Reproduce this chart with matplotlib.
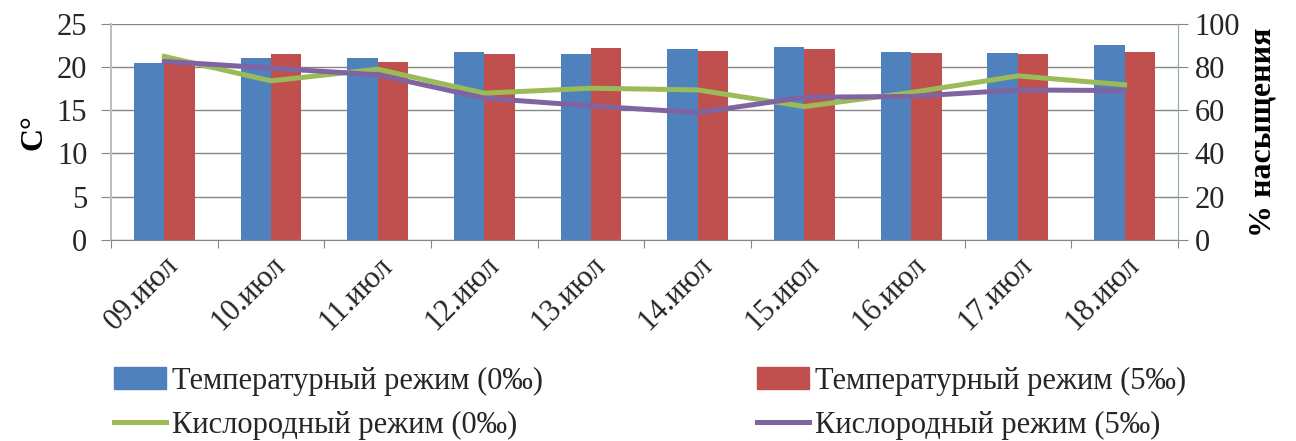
import matplotlib
matplotlib.use("Agg")
import matplotlib.pyplot as plt
import numpy as np
from matplotlib.patches import Patch
from matplotlib.lines import Line2D

plt.rcParams['font.family'] = ['Liberation Serif', 'DejaVu Serif']

dates = ["09.июл", "10.июл", "11.июл", "12.июл", "13.июл",
         "14.июл", "15.июл", "16.июл", "17.июл", "18.июл"]
temp_0 = [20.45, 21.0, 21.1, 21.75, 21.5, 22.05, 22.3, 21.75, 21.6, 22.5]
temp_5 = [20.55, 21.5, 20.55, 21.5, 22.2, 21.9, 22.05, 21.6, 21.5, 21.75]
oxy_0 = [84.9, 73.6, 79.0, 67.9, 70.2, 69.4, 61.7, 68.2, 75.9, 71.8]
oxy_5 = [82.6, 79.5, 76.4, 65.6, 62.0, 58.9, 66.0, 66.4, 69.4, 69.1]

labels = ["Температурный режим (0‰)", "Температурный режим (5‰)",
          "Кислородный режим (0‰)", "Кислородный режим (5‰)"]

c_blue = "#4F81BD"
c_red = "#C0504D"
c_green = "#9BBB59"
c_purple = "#8064A2"
grid_c = "#868686"
txt_c = "#262626"
fs = 22

fig = plt.figure(figsize=(12.96, 4.41), dpi=100)
ax = fig.add_axes([0.0856, 0.456, 0.8233, 0.49])
ax2 = ax.twinx()

x = np.arange(len(dates))
w = 0.285
ax.bar(x - w / 2, temp_0, w, color=c_blue, zorder=2)
ax.bar(x + w / 2, temp_5, w, color=c_red, zorder=2)

ax2.plot(x, oxy_0, color=c_green, lw=3.6, solid_joinstyle='round', zorder=3)
ax2.plot(x, oxy_5, color=c_purple, lw=3.6, solid_joinstyle='round', zorder=3)

ax.set_xlim(-0.5, len(dates) - 0.5)
ax.set_ylim(0, 25)
ax2.set_ylim(0, 100)
ax.set_yticks(range(0, 26, 5))
ax2.set_yticks(range(0, 101, 20))

ax.yaxis.grid(True, color=grid_c, lw=1.0, zorder=0)
ax.set_axisbelow(True)

for a in (ax, ax2):
    for s in a.spines.values():
        s.set_visible(False)
ax.spines['left'].set_visible(True)
ax.spines['left'].set_color("#BFBFBF")
ax.spines['left'].set_linewidth(1.5)
ax.spines['bottom'].set_visible(True)
ax.spines['bottom'].set_color(grid_c)
ax2.spines['right'].set_visible(True)
ax2.spines['right'].set_color("#8FA8A8")

ax.set_xticks(np.arange(-0.5, len(dates), 1.0), minor=False)
ax.set_xticklabels([])
ax.set_xticks(x, minor=True)
ax.set_xticklabels(dates, minor=True, rotation=45, ha='right', va='top',
                   rotation_mode='anchor', fontsize=fs)
ax.tick_params(axis='x', which='minor', length=0, pad=8)
ax.tick_params(axis='x', which='major', length=6, color=grid_c)
ax.tick_params(axis='y', length=7, color=grid_c, labelsize=fs, pad=10)
ax2.tick_params(axis='y', length=7, color=grid_c, labelsize=fs, pad=5)
for t in ax.get_yticklabels() + ax2.get_yticklabels() + ax.get_xticklabels(minor=True):
    t.set_color(txt_c)

ax.set_ylabel("C°", fontsize=fs + 1, fontweight='bold', labelpad=6)
ax2.set_ylabel("% насыщения", fontsize=fs + 1, fontweight='bold', rotation=90, labelpad=6)

handles = [Patch(color=c_blue), Line2D([], [], color=c_green, lw=3.6),
           Patch(color=c_red), Line2D([], [], color=c_purple, lw=3.6)]
hl = [labels[0], labels[2], labels[1], labels[3]]
leg = fig.legend(handles, hl, ncol=2, loc='lower left', bbox_to_anchor=(0.067, -0.06),
                 frameon=False, fontsize=fs, handlelength=1.7, handleheight=0.75,
                 handletextpad=0.2, columnspacing=7.0, labelspacing=0.5)
for t in leg.get_texts():
    t.set_color(txt_c)

fig.savefig("out.png", dpi=100)
